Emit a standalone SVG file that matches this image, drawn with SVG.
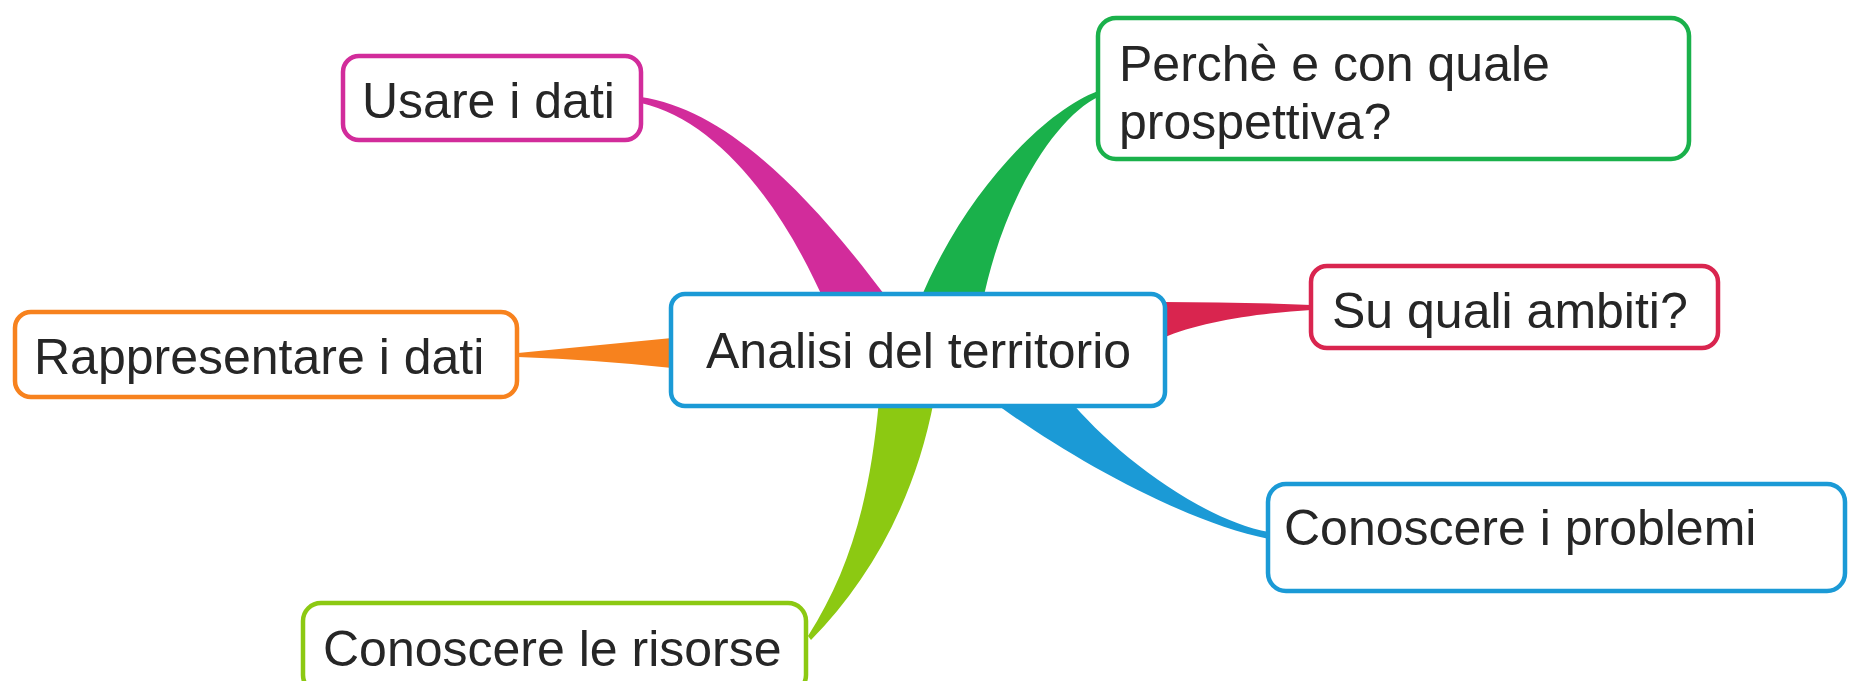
<svg xmlns="http://www.w3.org/2000/svg" width="1850" height="681" viewBox="0 0 1850 681">
<style>
.box{fill:#fff;stroke-width:4.5}
.t{font-family:"Liberation Sans",Arial,sans-serif;font-size:50px;fill:#262626}
</style>
<rect width="1850" height="681" fill="#fff"/>
<g id="connectors">
<path d="M641,97 C720,109 800,180 892,305 L826,305 C780,200 715,120 641,103 Z" fill="#D22C9B"/>
<path d="M1098,91 C1040,113 960,200 918,305 L982,305 C1005,190 1060,115 1098,97 Z" fill="#1AB14B"/>
<path d="M1163,302 Q1240,302 1311,305 L1311,310 C1260,313 1200,322 1163,338 Z" fill="#D9254F"/>
<path d="M518,353 Q600,345 672,338 L672,368 Q600,360 518,357 Z" fill="#F7821E"/>
<path d="M1068,398 C1110,450 1200,520 1269,532 L1269,539 C1180,521 1060,452 988,398 Z" fill="#1B9AD6"/>
<path d="M934,400 C915,500 870,580 811,640 L808,636 C850,570 870,500 879,400 Z" fill="#8CC912"/>
</g>
<g id="node-usare">
<rect class="box" x="343" y="56" width="298" height="84" rx="16" stroke="#D22C9B"/>
<text class="t" x="362" y="118">Usare i dati</text>
</g>
<g id="node-perche">
<rect class="box" x="1098" y="18" width="591" height="141" rx="18" stroke="#1AB14B"/>
<text class="t" x="1119" y="81">Perchè e con quale</text>
<text class="t" x="1119" y="139">prospettiva?</text>
</g>
<g id="node-ambiti">
<rect class="box" x="1311" y="266" width="407" height="82" rx="16" stroke="#D9254F"/>
<text class="t" x="1332" y="328">Su quali ambiti?</text>
</g>
<g id="node-analisi">
<rect class="box" x="671" y="294" width="494" height="112" rx="14" stroke="#1B9AD6" stroke-width="6"/>
<text class="t" x="706" y="368">Analisi del territorio</text>
</g>
<g id="node-rappresentare">
<rect class="box" x="15" y="312" width="502" height="85" rx="16" stroke="#F7821E"/>
<text class="t" x="34" y="374">Rappresentare i dati</text>
</g>
<g id="node-problemi">
<rect class="box" x="1268" y="484" width="577" height="107" rx="18" stroke="#1B9AD6"/>
<text class="t" x="1284" y="545">Conoscere i problemi</text>
</g>
<g id="node-risorse">
<rect class="box" x="303" y="603" width="503" height="90" rx="18" stroke="#8CC912"/>
<text class="t" x="323" y="666">Conoscere le risorse</text>
</g>
</svg>
